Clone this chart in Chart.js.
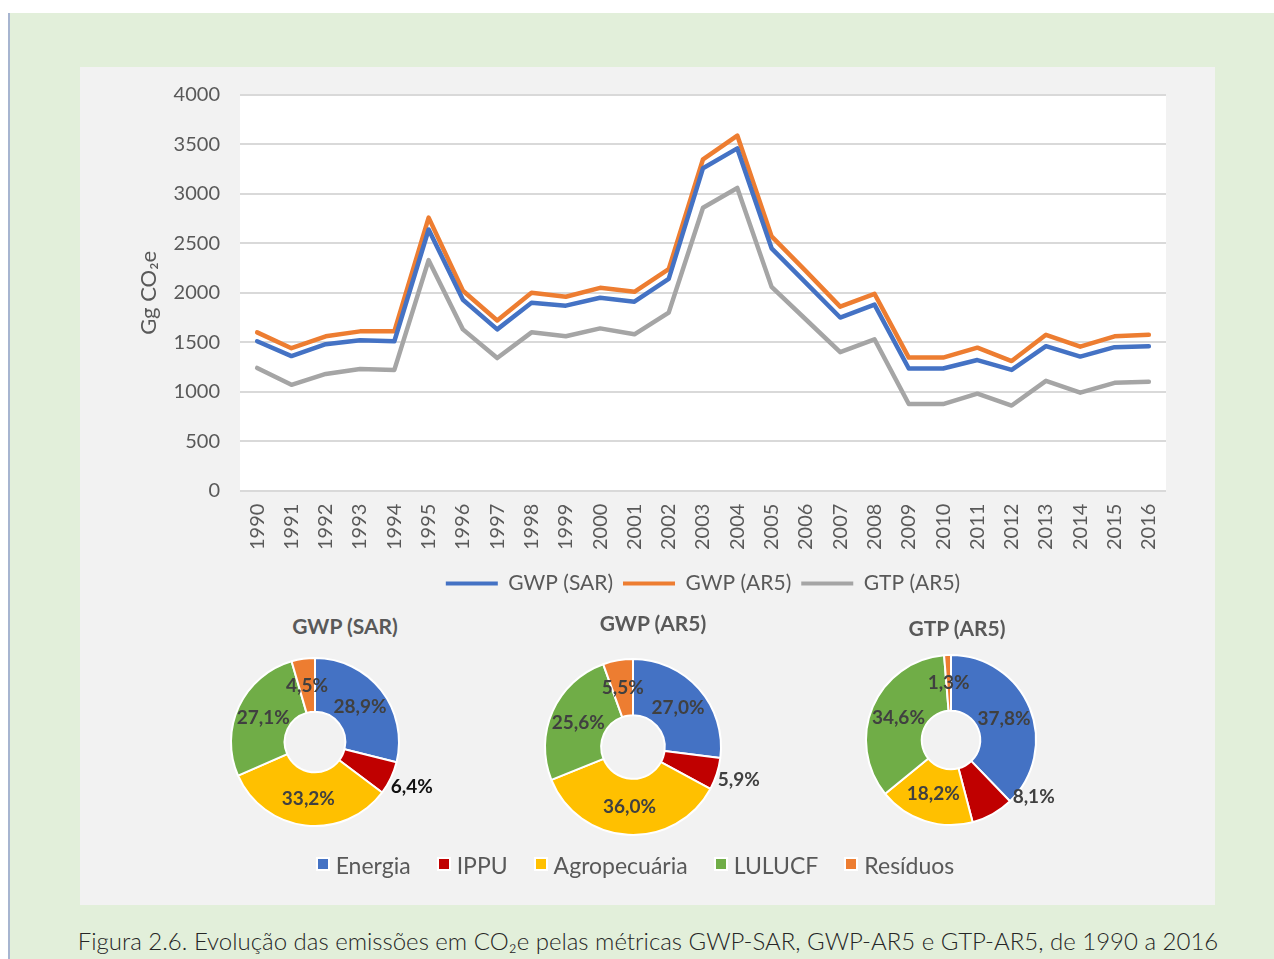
<!DOCTYPE html>
<html lang="pt">
<head>
    <meta charset="UTF-8">
    <title>Evolução das emissões em CO2e</title>
    <style>
        body {
            margin: 0;
            width: 1274px;
            height: 959px;
            background: #fff;
            font-family: Lato, "Open Sans", sans-serif;
            position: relative;
            overflow: hidden;
        }

        .frame {
            position: absolute;
            left: 8px;
            top: 13px;
            width: 1266px;
            height: 946px;
            background: #e2efda;
            border-left: 2px solid #a7b5d0;
        }

        .panel {
            position: absolute;
            left: 80px;
            top: 67px;
            width: 1135px;
            height: 838px;
            background: #f2f2f2;
        }

        canvas {
            position: absolute;
        }

        .pie-title {
            position: absolute;
            width: 200px;
            margin-left: -100px;
            text-align: center;
            font-weight: bold;
            font-size: 21px;
            color: #595959;
        }

        .pie-legend {
            position: absolute;
            left: 80px;
            width: 1110px;
            top: 851px;
            display: flex;
            justify-content: center;
            gap: 26px;
            font-size: 23px;
            color: #595959;
        }

        .pie-legend span.box {
            display: inline-block;
            width: 10px;
            height: 10px;
            border: 2px solid #fff;
            margin-right: 6px;
            vertical-align: 3px;
        }

        .caption {
            position: absolute;
            left: 0;
            width: 1296px;
            top: 926px;
            text-align: center;
            font-size: 24px;
            font-weight: 300;
            color: #262626;
        }
    </style>
</head>
<body>
    <div class="frame"></div>
    <div class="panel"></div>

    <canvas id="lineChart" width="1135" height="549" style="left:80px; top:63px;"></canvas>

    <div class="pie-title" style="left:345px; top:613px;">GWP (SAR)</div>
    <div class="pie-title" style="left:653px; top:610px;">GWP (AR5)</div>
    <div class="pie-title" style="left:957px; top:615px;">GTP (AR5)</div>

    <canvas id="pieSar" width="300" height="240" style="left:165px; top:622px;"></canvas>
    <canvas id="pieAr5" width="300" height="240" style="left:483px; top:627px;"></canvas>
    <canvas id="pieGtp" width="300" height="240" style="left:801px; top:620px;"></canvas>

    <div class="pie-legend" id="pieLegend"></div>

    <div class="caption">Figura 2.6. Evolução das emissões em CO₂e pelas métricas GWP-SAR, GWP-AR5 e GTP-AR5, de 1990 a 2016</div>

    <script src="https://cdn.jsdelivr.net/npm/chart.js"></script>
    <script>
        // Years on the x axis
        const years = ['1990', '1991', '1992', '1993', '1994', '1995', '1996', '1997', '1998', '1999',
            '2000', '2001', '2002', '2003', '2004', '2005', '2006', '2007', '2008', '2009',
            '2010', '2011', '2012', '2013', '2014', '2015', '2016'];

        // Emissions in Gg CO2e per metric
        const gwpSar = [1510, 1360, 1480, 1520, 1510, 2640, 1930, 1630, 1900, 1870,
            1950, 1910, 2140, 3260, 3460, 2450, 2100, 1750, 1880, 1235,
            1235, 1320, 1220, 1460, 1355, 1450, 1460];
        const gwpAr5 = [1600, 1440, 1560, 1610, 1610, 2760, 2020, 1720, 2000, 1960,
            2050, 2010, 2240, 3350, 3590, 2570, 2220, 1860, 1990, 1345,
            1345, 1445, 1310, 1575, 1455, 1560, 1575];
        const gtpAr5 = [1240, 1070, 1180, 1230, 1220, 2330, 1630, 1340, 1600, 1560,
            1640, 1580, 1800, 2860, 3060, 2060, 1730, 1400, 1530, 875,
            875, 980, 860, 1110, 990, 1090, 1100];

        const yTicks = [0, 500, 1000, 1500, 2000, 2500, 3000, 3500, 4000];

        // Share of each sector (%), 1990-2016
        const sectors = ['Energia', 'IPPU', 'Agropecuária', 'LULUCF', 'Resíduos'];
        const shareSar = [28.9, 6.4, 33.2, 27.1, 4.5];
        const shareAr5 = [27.0, 5.9, 36.0, 25.6, 5.5];
        const shareGtp = [37.8, 8.1, 18.2, 34.6, 1.3];

        const sectorColors = ['#4472c4', '#c00000', '#ffc000', '#70ad47', '#ed7d31'];
        const font = 'Lato, "Open Sans", sans-serif';

        // White plot area behind the lines
        const plotBackground = {
            id: 'plotBackground',
            beforeDraw(chart) {
                const a = chart.chartArea;
                chart.ctx.save();
                chart.ctx.fillStyle = '#fff';
                chart.ctx.fillRect(a.left, a.top, a.right - a.left, a.bottom - a.top);
                chart.ctx.restore();
            }
        };

        new Chart(document.getElementById('lineChart'), {
            type: 'line',
            data: {
                labels: years,
                datasets: [
                    { label: 'GWP (SAR)', data: gwpSar, borderColor: '#4472c4', backgroundColor: '#4472c4' },
                    { label: 'GWP (AR5)', data: gwpAr5, borderColor: '#ed7d31', backgroundColor: '#ed7d31' },
                    { label: 'GTP (AR5)', data: gtpAr5, borderColor: '#a5a5a5', backgroundColor: '#a5a5a5' }
                ]
            },
            options: {
                responsive: false,
                animation: false,
                events: [],
                elements: {
                    line: { borderWidth: 4.5, tension: 0, borderCapStyle: 'round', borderJoinStyle: 'round' },
                    point: { radius: 0 }
                },
                layout: { padding: { left: 56, right: 49, top: 22, bottom: 8 } },
                scales: {
                    x: {
                        offset: true,
                        grid: { display: false, drawTicks: false },
                        border: { display: false },
                        ticks: {
                            minRotation: 90,
                            maxRotation: 90,
                            autoSkip: false,
                            padding: 13,
                            color: '#595959',
                            font: { family: font, size: 20 }
                        }
                    },
                    y: {
                        min: 0,
                        max: 4000,
                        afterBuildTicks(scale) {
                            scale.ticks = yTicks.map(v => ({ value: v }));
                        },
                        afterFit(scale) {
                            scale.width = 104;
                        },
                        grid: { color: '#d9d9d9', lineWidth: 2, drawTicks: false },
                        border: { display: false },
                        ticks: {
                            padding: 20,
                            color: '#595959',
                            font: { family: font, size: 20 },
                            callback: v => String(v)
                        },
                        title: {
                            display: true,
                            text: 'Gg CO₂e',
                            color: '#595959',
                            font: { family: font, size: 22 },
                            padding: 0
                        }
                    }
                },
                plugins: {
                    tooltip: { enabled: false },
                    legend: {
                        position: 'bottom',
                        fullSize: false,
                        labels: {
                            boxWidth: 52,
                            boxHeight: 4,
                            padding: 10,
                            color: '#595959',
                            font: { family: font, size: 21 },
                            generateLabels(chart) {
                                return Chart.defaults.plugins.legend.labels.generateLabels(chart).map(l => {
                                    l.lineWidth = 0;
                                    l.fillStyle = l.strokeStyle;
                                    return l;
                                });
                            }
                        }
                    }
                }
            },
            plugins: [plotBackground]
        });

        // Percent labels on the rings
        const sliceLabels = {
            id: 'sliceLabels',
            afterDatasetsDraw(chart, args, opts) {
                const ctx = chart.ctx;
                const values = chart.data.datasets[0].data;
                ctx.save();
                ctx.font = 'bold 19px ' + font;
                ctx.textBaseline = 'middle';
                chart.getDatasetMeta(0).data.forEach((arc, i) => {
                    const p = arc.getProps(['x', 'y', 'startAngle', 'endAngle', 'innerRadius', 'outerRadius']);
                    const mid = (p.startAngle + p.endAngle) / 2;
                    const text = values[i].toFixed(1).replace('.', ',') + '%';
                    if (i === opts.outside) {
                        ctx.textAlign = 'left';
                        ctx.fillStyle = opts.outsideColor || '#404040';
                        ctx.fillText(text, p.x + Math.cos(mid) * p.outerRadius + opts.dx,
                            p.y + Math.sin(mid) * p.outerRadius + opts.dy);
                    } else {
                        const r = (p.innerRadius + p.outerRadius) / 2;
                        ctx.textAlign = 'center';
                        ctx.fillStyle = '#404040';
                        ctx.fillText(text, p.x + Math.cos(mid) * r, p.y + Math.sin(mid) * r);
                    }
                });
                ctx.restore();
            }
        };

        function makePie(id, values, radius, cutout, labelOpts) {
            new Chart(document.getElementById(id), {
                type: 'doughnut',
                data: {
                    labels: sectors,
                    datasets: [{
                        data: values,
                        backgroundColor: sectorColors,
                        borderColor: '#fff',
                        borderWidth: 2
                    }]
                },
                options: {
                    responsive: false,
                    animation: false,
                    events: [],
                    radius: radius,
                    cutout: cutout,
                    plugins: {
                        legend: { display: false },
                        tooltip: { enabled: false },
                        sliceLabels: labelOpts
                    }
                },
                plugins: [sliceLabels]
            });
        }

        makePie('pieSar', shareSar, 84, 43, { outside: 1, dx: 0, dy: 9, outsideColor: '#111' });
        makePie('pieAr5', shareAr5, 88, 43, { outside: 1, dx: 1, dy: 6 });
        makePie('pieGtp', shareGtp, 85, 41, { outside: 1, dx: 20, dy: -17 });

        // Shared legend for the three rings
        const legendBox = document.getElementById('pieLegend');
        sectors.forEach((name, i) => {
            const item = document.createElement('div');
            item.innerHTML = '<span class="box" style="background:' + sectorColors[i] + '"></span>' + name;
            legendBox.appendChild(item);
        });
    </script>
</body>
</html>
